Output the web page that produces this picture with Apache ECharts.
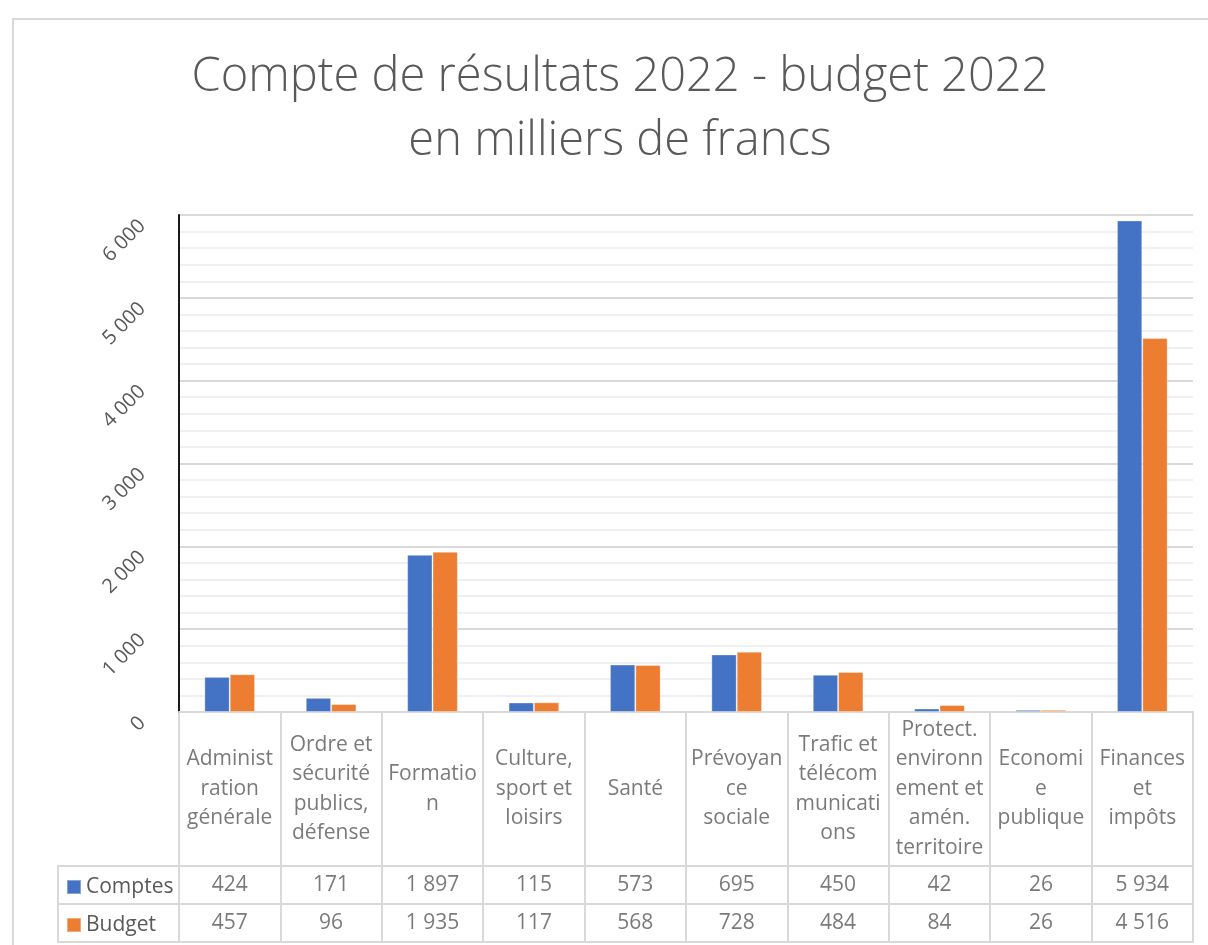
<!DOCTYPE html>
<html>
<head>
<meta charset="utf-8">
<script src="https://cdn.jsdelivr.net/npm/echarts@6/dist/echarts.min.js"></script>
<style>
  html, body { margin: 0; padding: 0; background: #fff; }
  #frame { position: absolute; left: 12px; top: 18px; width: 1300px; height: 1000px; border: 2px solid #d9d9d9; box-sizing: border-box; pointer-events: none; }
  #chart { position: absolute; left: 0; top: 0; width: 1208px; height: 945px; }
</style>
</head>
<body>
<div id="frame"></div>
<div id="chart"></div>
<script>
const categories = [
  'Administ\nration\ngénérale',
  'Ordre et\nsécurité\npublics,\ndéfense',
  'Formatio\nn',
  'Culture,\nsport et\nloisirs',
  'Santé',
  'Prévoyan\nce\nsociale',
  'Trafic et\ntélécom\nmunicati\nons',
  'Protect.\nenvironn\nement et\namén.\nterritoire',
  'Economi\ne\npublique',
  'Finances\net\nimpôts'
];
const comptes = [424, 171, 1897, 115, 573, 695, 450, 42, 26, 5934];
const budget  = [457, 96, 1935, 117, 568, 728, 484, 84, 26, 4516];
const seriesNames = ['Comptes', 'Budget'];
const yTicks = { min: 0, max: 6000, interval: 1000 };
const titleText = 'Compte de résultats 2022 - budget 2022\nen milliers de francs';

const FONT = '"Open Sans", "Noto Sans", sans-serif';
const TXT = '#595959';
const GRID = '#d9d9d9';
const BLUE = '#4472C4';
const ORANGE = '#ED7D31';

function fmt(v) { return String(v).replace(/\B(?=(\d{3})+(?!\d))/g, ' '); }

const L = 179, W = 1014;
const chart = echarts.init(document.getElementById('chart'), null, { renderer: 'canvas' });

const option = {
  backgroundColor: 'transparent',
  animation: false,
  textStyle: { fontFamily: FONT },
  title: {
    text: titleText,
    left: 615, top: 41, textAlign: 'center',
    textStyle: { fontFamily: FONT, fontWeight: 300, fontSize: 47, lineHeight: 64, color: TXT }
  },
  legend: {
    data: seriesNames,
    orient: 'vertical',
    left: 66, top: 874, padding: 0,
    itemWidth: 14, itemHeight: 14, itemGap: 12,
    icon: 'rect',
    textStyle: { fontFamily: FONT, fontSize: 21, lineHeight: 26, color: TXT }
  },
  grid: [
    { left: L, width: W, top: 215, height: 497, show: false },
    { left: L, width: W, top: 712, height: 154, show: true, borderColor: GRID, borderWidth: 2, backgroundColor: 'transparent' },
    { left: L, width: W, top: 866, height: 76, show: true, borderColor: GRID, borderWidth: 2, backgroundColor: 'transparent' },
    { left: 58, width: 121, top: 866, height: 76, show: true, borderColor: GRID, borderWidth: 2, backgroundColor: 'transparent' }
  ],
  xAxis: [
    { type: 'category', gridIndex: 0, data: categories, axisTick: { show: false }, axisLabel: { show: false },
      axisLine: { show: true, lineStyle: { color: GRID, width: 2 } } },
    { type: 'category', gridIndex: 1, data: categories, axisTick: { show: false }, axisLabel: { show: false },
      axisLine: { show: false }, splitLine: { show: true, lineStyle: { color: GRID, width: 2 } } },
    { type: 'category', gridIndex: 2, data: categories, axisTick: { show: false }, axisLabel: { show: false },
      axisLine: { show: false }, splitLine: { show: true, lineStyle: { color: GRID, width: 2 } } },
    { type: 'category', gridIndex: 3, data: ['legend'], axisTick: { show: false }, axisLabel: { show: false },
      axisLine: { show: false } }
  ],
  yAxis: [
    { type: 'value', gridIndex: 0, min: yTicks.min, max: yTicks.max, interval: yTicks.interval,
      axisLine: { show: true, lineStyle: { color: '#1a1a1a', width: 2 } },
      axisTick: { show: false },
      axisLabel: { rotate: 45, margin: 29, padding: [0, 11, 0, 0], fontSize: 20, color: TXT, fontFamily: FONT, formatter: v => fmt(v) },
      splitLine: { show: true, lineStyle: { color: GRID, width: 2 } },
      minorTick: { show: false, splitNumber: 5 },
      minorSplitLine: { show: true, lineStyle: { color: '#f0f0f0', width: 2 } } },
    { type: 'value', gridIndex: 1, min: 0, max: 1, show: false },
    { type: 'category', gridIndex: 2, data: seriesNames, inverse: true, axisTick: { show: false },
      axisLabel: { show: false }, axisLine: { show: false },
      splitLine: { show: true, lineStyle: { color: GRID, width: 2 } } },
    { type: 'category', gridIndex: 3, data: seriesNames, inverse: true, axisTick: { show: false },
      axisLabel: { show: false }, axisLine: { show: false },
      splitLine: { show: true, lineStyle: { color: GRID, width: 2 } } }
  ],
  series: [
    { name: seriesNames[0], type: 'bar', xAxisIndex: 0, yAxisIndex: 0, data: comptes,
      barGap: '0%', barCategoryGap: '50%', itemStyle: { color: BLUE, borderColor: 'rgba(255,255,255,0.35)', borderWidth: 1 } },
    { name: seriesNames[1], type: 'bar', xAxisIndex: 0, yAxisIndex: 0, data: budget,
      barGap: '0%', barCategoryGap: '50%', itemStyle: { color: ORANGE, borderColor: 'rgba(255,255,255,0.35)', borderWidth: 1 } },
    { type: 'scatter', xAxisIndex: 1, yAxisIndex: 1, symbolSize: 1, itemStyle: { color: 'transparent' },
      silent: true, legendHoverLink: false,
      data: categories.map((c, i) => [i, 0.5]),
      label: { show: true, position: 'inside', fontFamily: FONT, fontSize: 21, lineHeight: 29.5, color: TXT, align: 'center',
        formatter: p => categories[p.data[0]] } },
    { type: 'scatter', xAxisIndex: 2, yAxisIndex: 2, symbolSize: 1, itemStyle: { color: 'transparent' },
      silent: true,
      data: comptes.map((v, i) => [i, 0, v]).concat(budget.map((v, i) => [i, 1, v])),
      label: { show: true, position: 'inside', fontFamily: FONT, fontSize: 21, color: TXT,
        formatter: p => fmt(p.data[2]) } }
  ]
};
chart.setOption(option);
</script>
</body>
</html>
